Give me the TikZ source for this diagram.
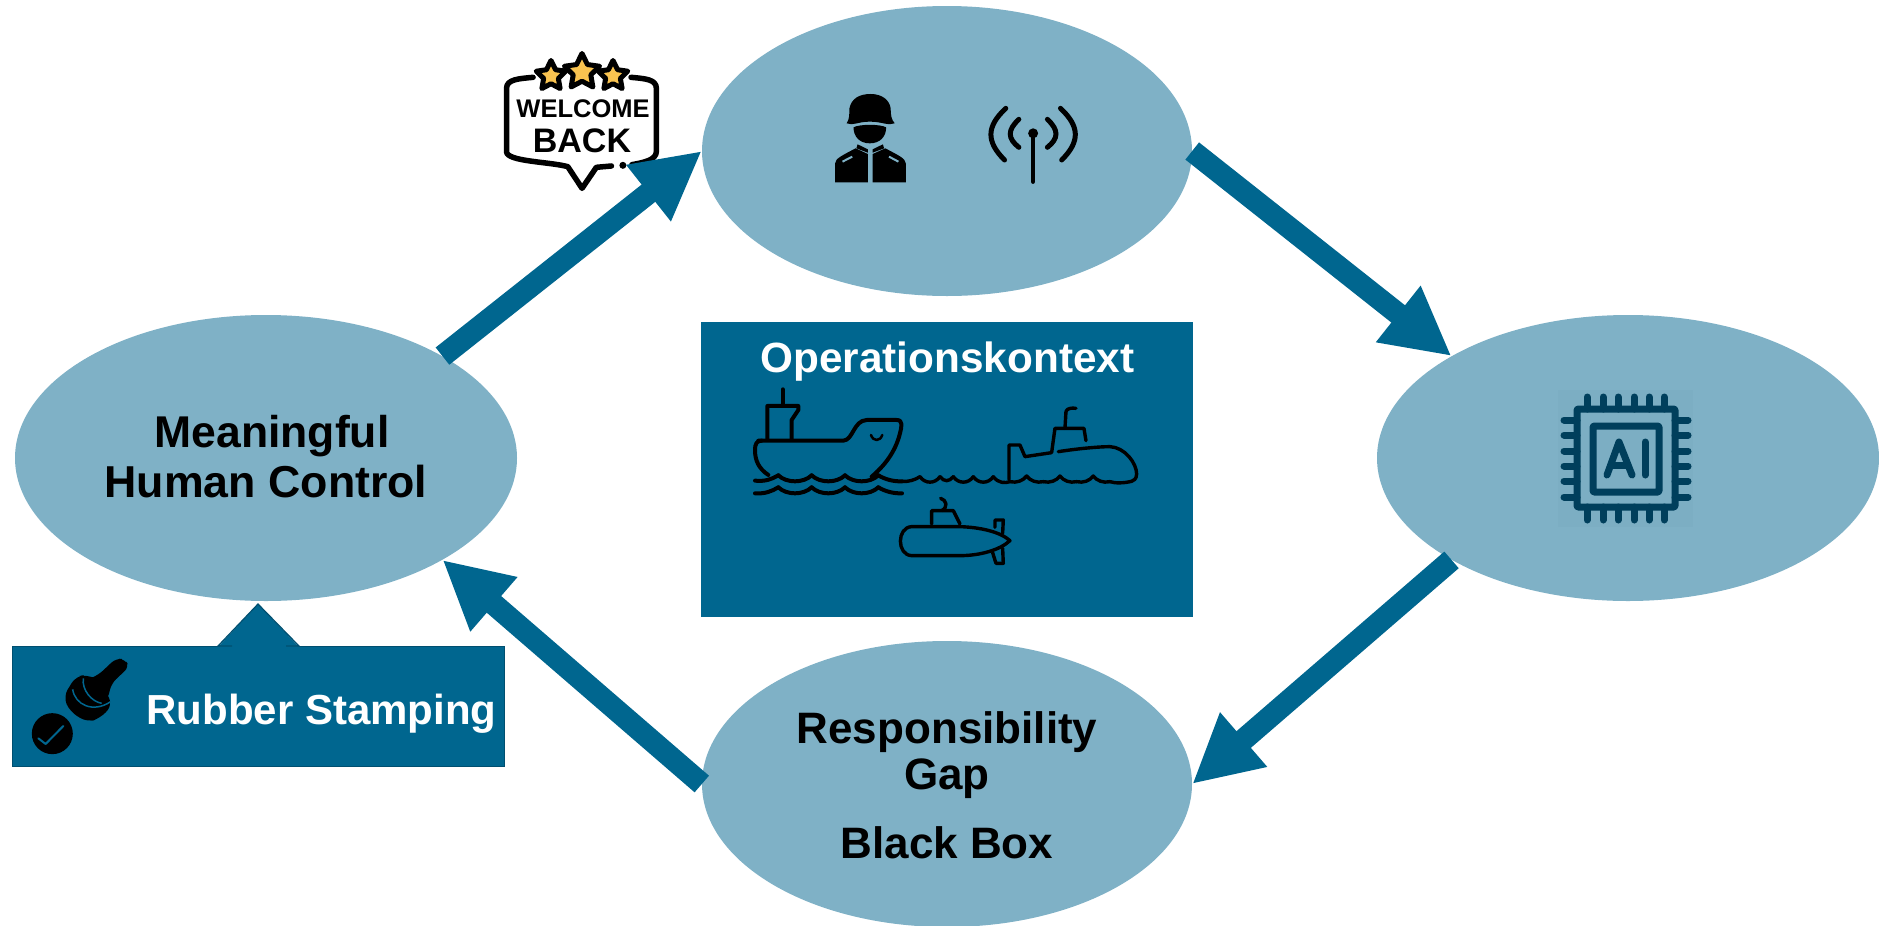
\documentclass[tikz,border=0pt]{standalone}
\usepackage{fontspec}
\setmainfont{Liberation Sans}
\usetikzlibrary{arrows.meta,shapes.geometric}
\definecolor{paleblue}{HTML}{7FB1C6}
\definecolor{deepblue}{HTML}{00668F}
\definecolor{edgeblue}{HTML}{004F70}
\definecolor{chipblue}{HTML}{003F5C}
\definecolor{chipback}{HTML}{7CAEC3}
\definecolor{staryellow}{HTML}{F9C350}
\tikzset{
	blob/.style={ellipse,fill=paleblue,inner sep=0pt},
	flow/.style={deepblue,line width=22pt,-{Triangle[length=68pt,width=67pt]}},
	caption/.style={anchor=base,align=center,font=\bfseries\fontsize{#1}{#1}\selectfont},
	signstar/.style={star,star points=5,star point ratio=2,draw=black,fill=staryellow,line width=5pt,line join=round,inner sep=0pt,minimum size=#1},
	icon/.style={line width=4pt,line cap=round,line join=round},
	subline/.style={line width=3.4pt},
}
\begin{document}
\begin{tikzpicture}[x=1pt,y=-1pt]
	\useasboundingbox (0,0) rectangle (1879,926);
	
	\begin{scope}[shift={(480,20)},x=.4082pt,y=-.3333pt]
		\fill[white] (65,190) rectangle (432,425);
		\draw[line width=5.5pt,line join=round,line cap=round] (130,172) .. controls (95,176) and (65,178) .. (65,205) -- (65,395) .. controls (65,425) and (170,425) .. (215,440) -- (250,505) -- (285,442) -- (322,438);
		\draw[line width=5.5pt,line join=round,line cap=round] (370,172) .. controls (405,176) and (432,178) .. (432,205) -- (432,395) .. controls (432,420) and (400,428) .. (372,434);
		\fill (350,436) circle (3.5pt);
	\end{scope}
	\node[signstar=31pt] (star1) at (551,76) {};
	\node[signstar=31pt] (star3) at (613,76) {};
	\node[signstar=37pt] (star2) at (582,72) {};
	\node[caption=25.5] (welcome) at (583,117) {WELCOME};
	\node[caption=34] (back) at (582,152) {BACK};
	
	\node[blob,minimum width=490pt,minimum height=290pt] (top) at (947,151) {};
	\node[blob,minimum width=502pt,minimum height=286pt] (left) at (266,458) {};
	\node[blob,minimum width=502pt,minimum height=286pt] (right) at (1628,458) {};
	\node[blob,minimum width=490pt,minimum height=286pt] (bottom) at (947,784) {};
	
	\node[caption=44.5] (meaningful) at (272,447) {Meaningful};
	\node[caption=44.7] (human) at (266,497) {Human Control};
	\node[caption=44] (respons) at (947,743) {Responsibility};
	\node[caption=44] (gap) at (947,789) {Gap};
	\node[caption=44] (blackbox) at (947,858) {Black Box};
	
	\draw[flow] (left.30) -- (top.west);
	\draw[flow] (top.east) -- (right.150);
	\draw[flow] (right.210) -- (bottom.east);
	\draw[flow] (bottom.west) -- (left.-30);
	
	\node[fill=deepblue,minimum width=492pt,minimum height=295pt,inner sep=0pt] (context) at (947,469.5) {};
	\node[caption=42.3,text=white] (contexttext) at (947.5,372) {Operationskontext};
	
	\begin{scope}[shift={(690,320)},x=.3333pt,y=-.3333pt,icon]
		\draw (205,362) -- (460,362) .. controls (490,360) and (490,302) .. (530,300) -- (620,300) .. controls (640,300) and (635,320) .. (630,340) .. controls (615,400) and (580,440) .. (545,470);
		\draw (235,465) .. controls (205,445) and (195,420) .. (195,390) .. controls (195,372) and (200,362) .. (215,362);
		\draw (232,360) -- (232,258) -- (325,258) -- (325,270) -- (305,300) -- (305,360);
		\draw (278,208) -- (278,258);
		\draw[line width=2.5pt] (543,345) .. controls (550,365) and (570,365) .. (577,345);
		\draw (195,482) .. controls (225,485) and (245,478) .. (265,466);
		\foreach \crest in {265,365,465}
			\draw (\crest,466) .. controls (\crest+25,490) and (\crest+75,490) .. (\crest+100,466);
		\draw (565,466) .. controls (585,478) and (610,485) .. (636,484);
		\draw (195,520) .. controls (225,522) and (245,514) .. (265,502);
		\foreach \crest in {265,365,465}
			\draw (\crest,502) .. controls (\crest+25,526) and (\crest+75,526) .. (\crest+100,502);
		\draw (565,502) .. controls (585,514) and (610,521) .. (636,520);
		\begin{scope}[subline]
			\draw (636,484) .. controls (655,486) and (675,480) .. (690,470);
			\foreach \crest in {690,790,850}
				\draw (\crest,470) .. controls (\crest+15,492) and (\crest+45,492) .. (\crest+60,470);
			\draw (750,470) .. controls (762,486) and (778,486) .. (790,470);
			\draw (910,470) .. controls (925,490) and (945,490) .. (960,485);
			\foreach \crest in {960,1060,1160}
				\draw (\crest,485) .. controls (\crest+20,490) and (\crest+40,482) .. (\crest+50,468) .. controls (\crest+60,482) and (\crest+80,490) .. (\crest+100,485);
			\draw (1260,485) .. controls (1275,490) and (1300,490) .. (1325,484);
			\draw (957,478) -- (957,375) -- (990,375) -- (1005,410) -- (1085,398) -- (1095,325) -- (1182,325) -- (1188,362);
			\draw (1125,325) -- (1128,275) .. controls (1130,265) and (1145,263) .. (1158,265);
			\draw (1105,395) .. controls (1170,385) and (1230,380) .. (1260,380) .. controls (1305,382) and (1340,430) .. (1340,462) .. controls (1340,478) and (1330,482) .. (1325,484);
			\draw (665,620) -- (810,620) .. controls (870,622) and (930,635) .. (960,662) .. controls (930,690) and (870,707) .. (810,707) -- (665,707) .. controls (620,705) and (620,622) .. (665,620);
			\draw (725,612) -- (725,572) -- (790,572) -- (810,612);
			\draw (755,572) .. controls (775,562) and (770,540) .. (752,535);
			\draw (915,622) -- (915,600) -- (940,600) -- (938,640);
			\draw (908,698) -- (918,730) -- (940,730) -- (938,685);
		\end{scope}
	\end{scope}
	
	\node[fill=deepblue,draw=edgeblue,line width=1.5pt,minimum width=492pt,minimum height=120pt,inner sep=0pt] (stampbox) at (258.5,706.5) {};
	\fill[deepblue] (218,647) -- (258,604) -- (299,647) -- cycle;
	\draw[edgeblue,line width=1.2pt] (232,646) -- (218,646) -- (258,604) -- (299,646) -- (286,646);
	\node[caption=42,text=white,anchor=base west] (stamptext) at (143,724) {Rubber Stamping};
	
	\begin{scope}[shift={(0,590)},x=.3333pt,y=-.3333pt]
		\fill (157,431) circle (20.5pt);
		\draw[deepblue,line width=2pt,line cap=round,line join=round] (115,445) -- (137,462) -- (190,408);
		\fill[rounded corners=8pt] (228,258) -- (262,255) -- (300,270) -- (338,345) -- (300,385) -- (262,397) -- (210,365) -- (190,320) -- cycle;
		\draw[deepblue,line width=1.5pt] (218,298) .. controls (225,345) and (280,370) .. (332,335);
		\fill[rounded corners=6pt] (348,205) -- (375,208) -- (388,230) -- (335,280) -- (322,330) -- (290,340) -- (250,310) -- (258,270) -- (295,255) -- cycle;
		\draw[deepblue,line width=1.5pt] (250,265) .. controls (245,300) and (275,335) .. (305,340);
	\end{scope}
	
	\begin{scope}[shift={(480,20)},x=.4082pt,y=-.3333pt]
		\fill (898,310) .. controls (905,300) and (905,280) .. (905,265) .. controls (910,235) and (930,222) .. (957,222) .. controls (985,222) and (1003,240) .. (1006,265) .. controls (1006,285) and (1008,300) .. (1016,310) .. controls (1000,318) and (985,305) .. (955,305) .. controls (925,305) and (915,318) .. (898,310) -- cycle;
		\fill (915,322) .. controls (930,312) and (980,312) .. (995,322) .. controls (995,350) and (980,370) .. (955,370) .. controls (930,370) and (915,350) .. (915,322) -- cycle;
		\fill (870,487) -- (870,430) .. controls (870,415) and (890,405) .. (920,385) -- (950,402) -- (950,487) -- cycle;
		\fill (1043,487) -- (1043,430) .. controls (1043,415) and (1023,405) .. (993,385) -- (962,402) -- (962,487) -- cycle;
		\fill (922,385) -- (925,373) -- (950,388) -- (950,398) -- cycle;
		\fill (990,385) -- (987,373) -- (962,388) -- (962,398) -- cycle;
		\draw[paleblue,line width=2pt] (888,425) -- (912,410);
		\draw[paleblue,line width=2pt] (1025,425) -- (1002,410);
		\draw[line width=4.5pt,line cap=round] (1355,340) -- (1355,485);
		\fill (1355,340) circle (5pt);
		\draw[line width=5pt,line cap=round] (1288,265) .. controls (1240,320) and (1240,365) .. (1285,420);
		\draw[line width=5pt,line cap=round] (1422,265) .. controls (1470,320) and (1470,365) .. (1425,420);
		\draw[line width=5pt,line cap=round] (1320,298) .. controls (1292,330) and (1292,355) .. (1320,382);
		\draw[line width=5pt,line cap=round] (1390,298) .. controls (1418,330) and (1418,355) .. (1390,382);
	\end{scope}
	
	\begin{scope}[chipline/.style={chipblue,line width=7pt,line cap=round,line join=round}]
		\fill[chipback] (1558,390) rectangle (1693,527);
		\draw[chipline,rounded corners=1pt] (1577,409) rectangle (1675,507);
		\draw[chipline,rounded corners=1pt] (1593,426) rectangle (1659,492);
		\foreach \pin in {1587,1603,1618,1634,1649,1664} {
			\draw[chipline] (\pin,397) -- (\pin,409);
			\draw[chipline] (\pin,507) -- (\pin,520);
		}
		\foreach \pin in {420,435,451,466,481,497} {
			\draw[chipline] (1564,\pin) -- (1577,\pin);
			\draw[chipline] (1675,\pin) -- (1688,\pin);
		}
		\draw[chipline] (1607,475) -- (1619,442) -- (1632,475);
		\draw[chipline] (1611,465) -- (1628,465);
		\draw[chipline] (1645,442) -- (1645,475);
	\end{scope}
\end{tikzpicture}
\end{document}
